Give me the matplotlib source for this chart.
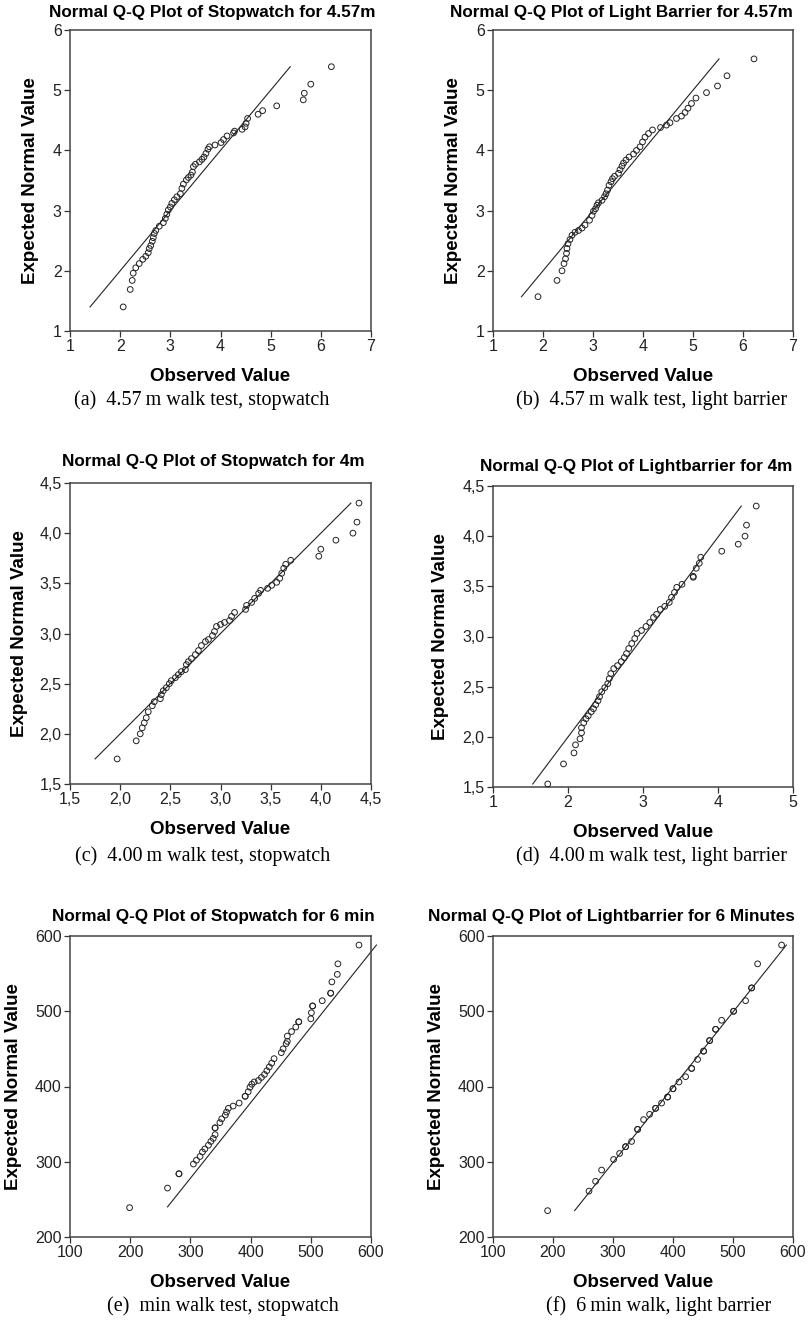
import matplotlib.pyplot as plt
import numpy as np

plt.rcParams['font.family'] = ['Liberation Sans', 'DejaVu Sans']

# ---- data ----
# (a) 4.57 m, stopwatch
obs_a = [2.06, 2.20, 2.24, 2.26, 2.31, 2.38, 2.45, 2.51, 2.56, 2.58, 2.61, 2.64, 2.66, 2.68,
         2.71, 2.78, 2.86, 2.90, 2.93, 2.96, 3.00, 3.03, 3.08, 3.13, 3.20, 3.23, 3.26, 3.32,
         3.36, 3.41, 3.44, 3.46, 3.50, 3.58, 3.63, 3.67, 3.71, 3.75, 3.78, 3.89, 4.01, 4.06,
         4.13, 4.26, 4.28, 4.43, 4.49, 4.51, 4.54, 4.75, 4.84, 5.12, 5.65, 5.67, 5.80, 6.21]
exp_a = [1.40, 1.69, 1.84, 1.96, 2.05, 2.12, 2.19, 2.24, 2.30, 2.37, 2.42, 2.49, 2.55, 2.62,
         2.67, 2.74, 2.80, 2.87, 2.94, 3.01, 3.06, 3.12, 3.18, 3.23, 3.28, 3.37, 3.44, 3.51,
         3.55, 3.59, 3.64, 3.73, 3.77, 3.81, 3.85, 3.89, 3.95, 4.02, 4.06, 4.09, 4.13, 4.18,
         4.24, 4.29, 4.32, 4.35, 4.39, 4.45, 4.53, 4.60, 4.66, 4.74, 4.84, 4.95, 5.10, 5.39]

# (b) 4.57 m, light barrier
obs_b = [1.90, 2.28, 2.38, 2.42, 2.45, 2.47, 2.48, 2.50, 2.54, 2.58, 2.64, 2.71, 2.78, 2.84,
         2.93, 2.98, 3.01, 3.05, 3.08, 3.11, 3.18, 3.23, 3.26, 3.29, 3.32, 3.36, 3.39, 3.43,
         3.51, 3.54, 3.58, 3.61, 3.66, 3.72, 3.81, 3.87, 3.94, 3.99, 4.04, 4.11, 4.19, 4.35,
         4.47, 4.54, 4.67, 4.77, 4.84, 4.90, 4.97, 5.06, 5.27, 5.49, 5.68, 6.22]
exp_b = [1.57, 1.84, 2.00, 2.12, 2.20, 2.29, 2.37, 2.45, 2.52, 2.59, 2.64, 2.67, 2.71, 2.76,
         2.84, 2.92, 2.99, 3.03, 3.09, 3.13, 3.17, 3.23, 3.28, 3.34, 3.42, 3.48, 3.53, 3.57,
         3.62, 3.68, 3.74, 3.79, 3.84, 3.89, 3.94, 4.00, 4.06, 4.14, 4.22, 4.28, 4.34, 4.38,
         4.42, 4.46, 4.53, 4.57, 4.63, 4.70, 4.78, 4.87, 4.96, 5.07, 5.24, 5.52]

# (c) 4.00 m, stopwatch
obs_c = [1.97, 2.16, 2.20, 2.22, 2.24, 2.26, 2.28, 2.32, 2.34, 2.40, 2.41, 2.43, 2.46, 2.49,
         2.51, 2.55, 2.58, 2.61, 2.65, 2.66, 2.68, 2.71, 2.75, 2.78, 2.81, 2.85, 2.88, 2.92,
         2.94, 2.96, 3.00, 3.04, 3.09, 3.11, 3.14, 3.25, 3.26, 3.31, 3.34, 3.38, 3.40, 3.47,
         3.51, 3.56, 3.59, 3.61, 3.63, 3.65, 3.70, 3.98, 4.00, 4.15, 4.32, 4.36, 4.38]
exp_c = [1.75, 1.93, 2.00, 2.06, 2.11, 2.16, 2.22, 2.28, 2.32, 2.35, 2.39, 2.43, 2.46, 2.50,
         2.53, 2.56, 2.59, 2.62, 2.64, 2.69, 2.72, 2.75, 2.79, 2.83, 2.88, 2.92, 2.94, 2.98,
         3.02, 3.07, 3.09, 3.11, 3.13, 3.17, 3.21, 3.24, 3.28, 3.31, 3.35, 3.40, 3.43, 3.45,
         3.48, 3.51, 3.55, 3.60, 3.65, 3.69, 3.73, 3.77, 3.84, 3.93, 4.00, 4.11, 4.30]

# (d) 4.00 m, light barrier
obs_d = [1.73, 1.94, 2.08, 2.10, 2.16, 2.18, 2.18, 2.21, 2.24, 2.27, 2.31, 2.34, 2.37, 2.40,
         2.42, 2.45, 2.49, 2.53, 2.55, 2.57, 2.61, 2.66, 2.71, 2.75, 2.78, 2.81, 2.85, 2.89,
         2.92, 2.98, 3.04, 3.09, 3.14, 3.18, 3.23, 3.29, 3.35, 3.38, 3.42, 3.45, 3.52, 3.67,
         3.67, 3.71, 3.75, 3.77, 4.05, 4.27, 4.36, 4.38, 4.51]
exp_d = [1.53, 1.73, 1.84, 1.92, 1.98, 2.04, 2.09, 2.14, 2.18, 2.21, 2.25, 2.28, 2.32, 2.36,
         2.40, 2.45, 2.49, 2.53, 2.58, 2.63, 2.68, 2.71, 2.75, 2.79, 2.83, 2.88, 2.93, 2.98,
         3.03, 3.06, 3.10, 3.14, 3.19, 3.22, 3.27, 3.30, 3.34, 3.39, 3.44, 3.49, 3.52, 3.59,
         3.60, 3.68, 3.73, 3.79, 3.85, 3.92, 4.00, 4.11, 4.30]

# (e) 6 min, stopwatch
obs_e = [199, 262, 281, 281, 305, 310, 316, 320, 324, 330, 334, 338, 341, 341, 341, 349, 352,
         358, 360, 363, 371, 381, 391, 391, 396, 399, 402, 406, 413, 418, 423, 427, 431, 435,
         439, 451, 454, 459, 461, 461, 468, 475, 480, 480, 500, 501, 503, 503, 519, 533, 533,
         535, 544, 545, 580]
exp_e = [239, 265, 284, 284, 297, 302, 307, 313, 317, 322, 327, 331, 336, 345, 345, 352, 357,
         362, 366, 371, 374, 378, 387, 387, 393, 399, 403, 406, 408, 412, 416, 421, 426, 431,
         437, 445, 450, 457, 460, 467, 473, 479, 486, 486, 490, 498, 507, 507, 514, 524, 524,
         539, 549, 563, 588]

# (f) 6 min, light barrier
obs_f = [191, 260, 271, 281, 301, 311, 321, 321, 331, 341, 341, 351, 361, 371, 371, 381, 391,
         391, 400, 400, 410, 421, 431, 431, 441, 451, 451, 461, 461, 471, 471, 481, 501, 501,
         521, 531, 531, 541, 581]
exp_f = [235, 261, 274, 289, 303, 311, 320, 320, 327, 343, 343, 356, 363, 371, 371, 378, 386,
         386, 397, 397, 406, 413, 424, 424, 436, 447, 447, 461, 461, 476, 476, 488, 500, 500,
         514, 531, 531, 563, 588]

# reference lines (x ends, y ends)
line_x = [[1.40, 5.39], [1.57, 5.52], [1.75, 4.30], [1.53, 4.31], [262, 609], [236, 589]]
line_y = [[1.40, 5.39], [1.57, 5.52], [1.75, 4.30], [1.53, 4.30], [240, 588], [235, 588]]

titles = ["Normal Q-Q Plot of Stopwatch for 4.57m",
          "Normal Q-Q Plot of Light Barrier for 4.57m",
          "Normal Q-Q Plot of Stopwatch for 4m",
          "Normal Q-Q Plot of Lightbarrier for 4m",
          "Normal Q-Q Plot of Stopwatch for 6 min",
          "Normal Q-Q Plot of Lightbarrier for 6 Minutes"]
captions = ["(a)  4.57\u2009m walk test, stopwatch",
            "(b)  4.57\u2009m walk test, light barrier",
            "(c)  4.00\u2009m walk test, stopwatch",
            "(d)  4.00\u2009m walk test, light barrier",
            "(e)  min walk test, stopwatch",
            "(f)  6\u2009min walk, light barrier"]

xticks = [[1, 2, 3, 4, 5, 6, 7], [1, 2, 3, 4, 5, 6, 7],
          [1.5, 2.0, 2.5, 3.0, 3.5, 4.0, 4.5], [1, 2, 3, 4, 5],
          [100, 200, 300, 400, 500, 600], [100, 200, 300, 400, 500, 600]]
yticks = [[1, 2, 3, 4, 5, 6], [1, 2, 3, 4, 5, 6],
          [1.5, 2.0, 2.5, 3.0, 3.5, 4.0, 4.5], [1.5, 2.0, 2.5, 3.0, 3.5, 4.0, 4.5],
          [200, 300, 400, 500, 600], [200, 300, 400, 500, 600]]

obs = [obs_a, obs_b, obs_c, obs_d, obs_e, obs_f]
exp = [exp_a, exp_b, exp_c, exp_d, exp_e, exp_f]

# ---- layout in pixels (left, right, top, bottom) ----
W, H = 810, 1329
boxes = [(70, 371, 30, 331), (493, 793, 30, 331),
         (70, 371, 483, 784), (493, 793, 486, 787),
         (70, 371, 936, 1237), (493, 793, 936, 1237)]
title_pos = [(212, 12), (621, 13), (213, 462), (636, 466), (213, 917), (611, 917)]
cap_pos = [(202, 400), (652, 400), (203, 856), (652, 856), (223, 1306), (659, 1306)]
ylabel_pad = [10, 10, 8, 10, 9, 9]


def fmt(v):
    if isinstance(v, int):
        return str(v)
    return ("%.1f" % v).replace(".", ",")


fig = plt.figure(figsize=(W / 100, H / 100), dpi=100)
for i in range(6):
    l, r, t, b = boxes[i]
    ax = fig.add_axes([l / W, 1 - b / H, (r - l) / W, (b - t) / H])
    ax.plot(line_x[i], line_y[i], color="#222222", lw=0.8, clip_on=False)
    ax.scatter(obs[i], exp[i], s=17, facecolors="none", edgecolors="#222222",
               linewidths=0.7, clip_on=False, zorder=3)
    ax.set_xlim(xticks[i][0], xticks[i][-1])
    ax.set_ylim(yticks[i][0], yticks[i][-1])
    ax.set_xticks(xticks[i])
    ax.set_yticks(yticks[i])
    ax.set_xticklabels([fmt(v) for v in xticks[i]])
    ax.set_yticklabels([fmt(v) for v in yticks[i]])
    ax.tick_params(direction="out", length=4, width=0.9, color="#333333",
                   labelsize=11.5, pad=2, labelcolor="#222222")
    for s in ax.spines.values():
        s.set_color("#444444")
        s.set_linewidth(1.1)
    ax.set_xlabel("Observed Value", fontsize=13.5, fontweight="bold", labelpad=10)
    ax.set_ylabel("Expected Normal Value", fontsize=13.5, fontweight="bold",
                  labelpad=ylabel_pad[i])
    tx, ty = title_pos[i]
    fig.text(tx / W, 1 - ty / H, titles[i], fontsize=12.3, fontweight="bold",
             ha="center", va="center")
    cx, cy = cap_pos[i]
    fig.text(cx / W, 1 - cy / H, captions[i], fontsize=14.5, ha="center", va="center",
             family=["Liberation Serif", "DejaVu Serif"])

fig.savefig("out.png", dpi=100)
